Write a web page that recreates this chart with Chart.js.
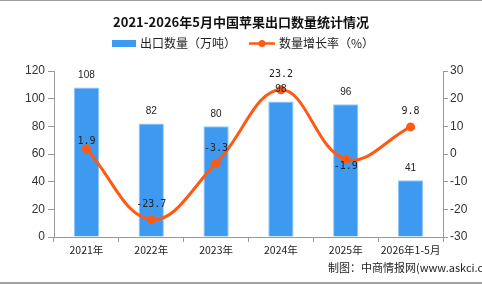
<!DOCTYPE html>
<html><head><meta charset="utf-8">
<script src="https://cdn.jsdelivr.net/npm/chart.js@4/dist/chart.umd.min.js"></script>
<style>html,body{margin:0;padding:0;background:#fff;}#wrap{position:relative;width:482px;height:284px;}</style>
</head><body><div id="wrap"><canvas id="c" width="482" height="284"></canvas></div>
<script>
const categories = ['2021年','2022年','2023年','2024年','2025年','2026年1-5月'];
const exportVolume = [108, 82, 80, 98, 96, 41];
const growthRate = [1.9, -23.7, -3.3, 23.2, -1.9, 9.8];
const leftTicks = [0, 20, 40, 60, 80, 100, 120];
const rightTicks = [-30, -20, -10, 0, 10, 20, 30];
const titleText = '2021-2026年5月中国苹果出口数量统计情况';
const legendBar = '出口数量（万吨）';
const legendLine = '数量增长率（%）';
const sourceText = '制图：中商情报网(www.askci.com';

const BAR = '#3d9af0', LINE = '#ff5a14', AXIS = '#999999';
const CJK = '"Noto Sans CJK SC", "Liberation Sans", sans-serif';

const deco = {
  id: 'deco',
  afterDraw(chart) {
    const ctx = chart.ctx;
    ctx.save();
    ctx.fillStyle = '#a0a0a0';
    ctx.fillRect(0, 0, 482, 1);
    ctx.fillRect(0, 282, 482, 2);
    ctx.fillStyle = '#111';
    ctx.font = 'bold 13px ' + CJK;
    ctx.textAlign = 'center'; ctx.textBaseline = 'middle';
    ctx.fillText(titleText, 241, 22);
    ctx.fillStyle = BAR;
    ctx.fillRect(112, 40, 24, 7);
    ctx.fillStyle = '#222';
    ctx.font = '12px ' + CJK;
    ctx.textAlign = 'left';
    ctx.fillText(legendBar, 140, 43.5);
    ctx.strokeStyle = LINE; ctx.lineWidth = 2.5;
    ctx.beginPath(); ctx.moveTo(249, 43.5); ctx.lineTo(275, 43.5); ctx.stroke();
    ctx.fillStyle = LINE;
    ctx.beginPath(); ctx.arc(262, 43.5, 3.5, 0, Math.PI * 2); ctx.fill();
    ctx.fillStyle = '#222';
    ctx.fillText(legendLine, 279, 43.5);
    ctx.font = '11px ' + CJK;
    ctx.fillStyle = '#222';
    ctx.fillText(sourceText, 328, 268);
    const barMeta = chart.getDatasetMeta(0);
    ctx.font = '10px "Liberation Sans", sans-serif';
    ctx.textAlign = 'center';
    ctx.fillStyle = '#222';
    barMeta.data.forEach((el, i) => {
      ctx.fillText(String(exportVolume[i]), el.x, el.y - 12);
    });
    const lineMeta = chart.getDatasetMeta(1);
    ctx.font = '10px "DejaVu Sans Mono", monospace';
    lineMeta.data.forEach((el, i) => {
      const v = growthRate[i];
      let dy = -15;
      if (i === 0) dy = -7;
      if (i === 4) dy = 7;
      ctx.fillText(String(v), el.x, el.y + dy);
    });
    ctx.restore();
  }
};

new Chart(document.getElementById('c'), {
  data: {
    labels: categories,
    datasets: [
      {
        type: 'bar', data: exportVolume, yAxisID: 'y',
        backgroundColor: BAR, borderColor: '#8ec6f7', borderWidth: 1,
        barPercentage: 0.39, categoryPercentage: 1, order: 2
      },
      {
        type: 'line', data: growthRate, yAxisID: 'y1',
        borderColor: LINE, backgroundColor: LINE, borderWidth: 3,
        pointRadius: 4.5, pointBackgroundColor: LINE, pointBorderWidth: 0,
        tension: 0.4, order: 1
      }
    ]
  },
  options: {
    responsive: false, animation: false,
    layout: { padding: { top: 71, left: 0, right: 0, bottom: 0 } },
    plugins: { legend: { display: false }, title: { display: false }, tooltip: { enabled: false } },
    scales: {
      x: {
        offset: true,
        grid: { display: true, drawOnChartArea: false, offset: true, tickLength: 5, color: AXIS },
        border: { color: AXIS, width: 1 },
        ticks: { color: '#222', font: { size: 10.5, family: CJK }, padding: 2, maxRotation: 0, autoSkip: false },
        afterFit(s) { s.height = 47; }
      },
      y: {
        position: 'left', min: 0, max: 120,
        afterBuildTicks(s) { s.ticks = leftTicks.map(v => ({ value: v })); },
        grid: { display: true, drawOnChartArea: false, tickLength: 6, color: AXIS },
        border: { color: AXIS, width: 1 },
        ticks: { color: '#333', font: { size: 12, family: '"Liberation Sans", sans-serif' }, padding: 3 },
        afterFit(s) { s.width = 54; }
      },
      y1: {
        position: 'right', min: -30, max: 30,
        afterBuildTicks(s) { s.ticks = rightTicks.map(v => ({ value: v })); },
        grid: { display: true, drawOnChartArea: false, tickLength: 5, color: AXIS },
        border: { color: AXIS, width: 1 },
        ticks: { color: '#333', font: { size: 12, family: '"Liberation Sans", sans-serif' }, padding: 2 },
        afterFit(s) { s.width = 39; }
      }
    }
  },
  plugins: [deco]
});
</script></body></html>
